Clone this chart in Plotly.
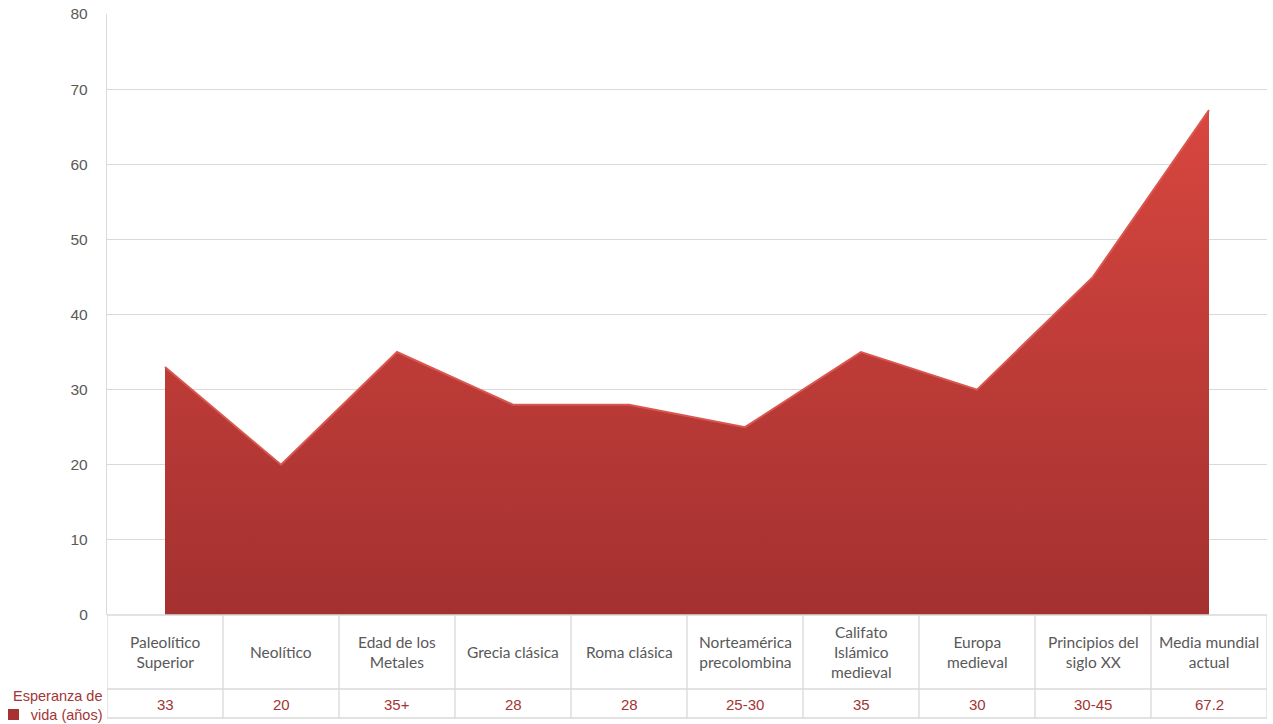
import plotly.graph_objects as go

categories = ["Paleolítico<br>Superior", "Neolítico", "Edad de los<br>Metales", "Grecia clásica",
              "Roma clásica", "Norteamérica<br>precolombina", "Califato<br>Islámico<br>medieval",
              "Europa<br>medieval", "Principios del<br>siglo XX", "Media mundial<br>actual"]
values = [33, 20, 35, 28, 28, 25, 35, 30, 45, 67.2]
value_labels = ["33", "20", "35+", "28", "28", "25-30", "35", "30", "30-45", "67.2"]
series_name = "Esperanza de<br>vida (años)"
y_ticks = [0, 10, 20, 30, 40, 50, 60, 70, 80]

W, H = 1273, 724
ML, MR, MT, MB = 107, 6, 14, 109
plot_h = H - MT - MB
plot_w = W - ML - MR

def py(pixel_y):
    return -(pixel_y - (H - MB)) / plot_h

def px(pixel_x):
    return (pixel_x - ML) / plot_w

n = len(categories)
xs = list(range(n))
series_color = "#a83232"

fig = go.Figure()
fig.add_trace(go.Scatter(
    x=xs, y=values, mode="lines", fill="tozeroy",
    line=dict(color="#d9574f", width=2),
    fillcolor="#bf3b37",
    fillgradient=dict(type="vertical",
                      colorscale=[[0, "#a33130"], [1, "#d8463f"]]),
    showlegend=False, hoverinfo="skip",
))

grid = "#d9d9d9"
shapes = []
row1_bottom = py(689)
row2_bottom = py(718)
for b in range(n + 1):
    shapes.append(dict(type="line", xref="x", yref="paper", x0=b - 0.5, x1=b - 0.5,
                       y0=0, y1=row2_bottom, line=dict(color=grid, width=1.3)))
for yy in [0, row1_bottom, row2_bottom]:
    shapes.append(dict(type="line", xref="x", yref="paper", x0=-0.5, x1=n - 0.5,
                       y0=yy, y1=yy, line=dict(color=grid, width=1.3)))
# legend key square
shapes.append(dict(type="rect", xref="paper", yref="paper", x0=px(8), x1=px(19),
                   y0=py(720), y1=py(709), fillcolor=series_color, line=dict(width=0)))

annotations = []
for i, (c, v) in enumerate(zip(categories, value_labels)):
    annotations.append(dict(x=i, y=py(652), xref="x", yref="paper", text=c, showarrow=False,
                            font=dict(family="Lato, Open Sans, sans-serif", size=15.5, color="#595959"),
                            xanchor="center", yanchor="middle", align="center"))
    annotations.append(dict(x=i, y=py(704), xref="x", yref="paper", text=v, showarrow=False,
                            font=dict(family="Liberation Sans, Arial, sans-serif", size=15, color="#a33535"),
                            xanchor="center", yanchor="middle"))

annotations.append(dict(x=px(104), y=py(705), xref="paper", yref="paper",
                        text="Esperanza de<br>vida (años)",
                        showarrow=False, xanchor="right", yanchor="middle", align="right",
                        font=dict(family="Liberation Sans, Arial, sans-serif", size=14.5, color="#a33535")))

fig.update_layout(
    width=W, height=H,
    margin=dict(l=ML, r=MR, t=MT, b=MB, autoexpand=False),
    paper_bgcolor="white", plot_bgcolor="white",
    shapes=shapes, annotations=annotations,
    xaxis=dict(range=[-0.5, n - 0.5], showticklabels=False, showgrid=False, zeroline=False,
               showline=False, ticks="", automargin=False),
    yaxis=dict(range=[0, 80], tickvals=y_ticks, showgrid=True, gridcolor=grid, gridwidth=1.3,
               zeroline=False, showline=True, linecolor=grid, linewidth=1.3, ticks="",
               ticklabelstandoff=15, automargin=False,
               tickfont=dict(family="Liberation Sans, Arial, sans-serif", size=15.5, color="#595959")),
)

fig.write_html("out.html", config={"displayModeBar": False},
               post_script="document.body.style.margin='0';document.body.style.overflow='hidden';")
